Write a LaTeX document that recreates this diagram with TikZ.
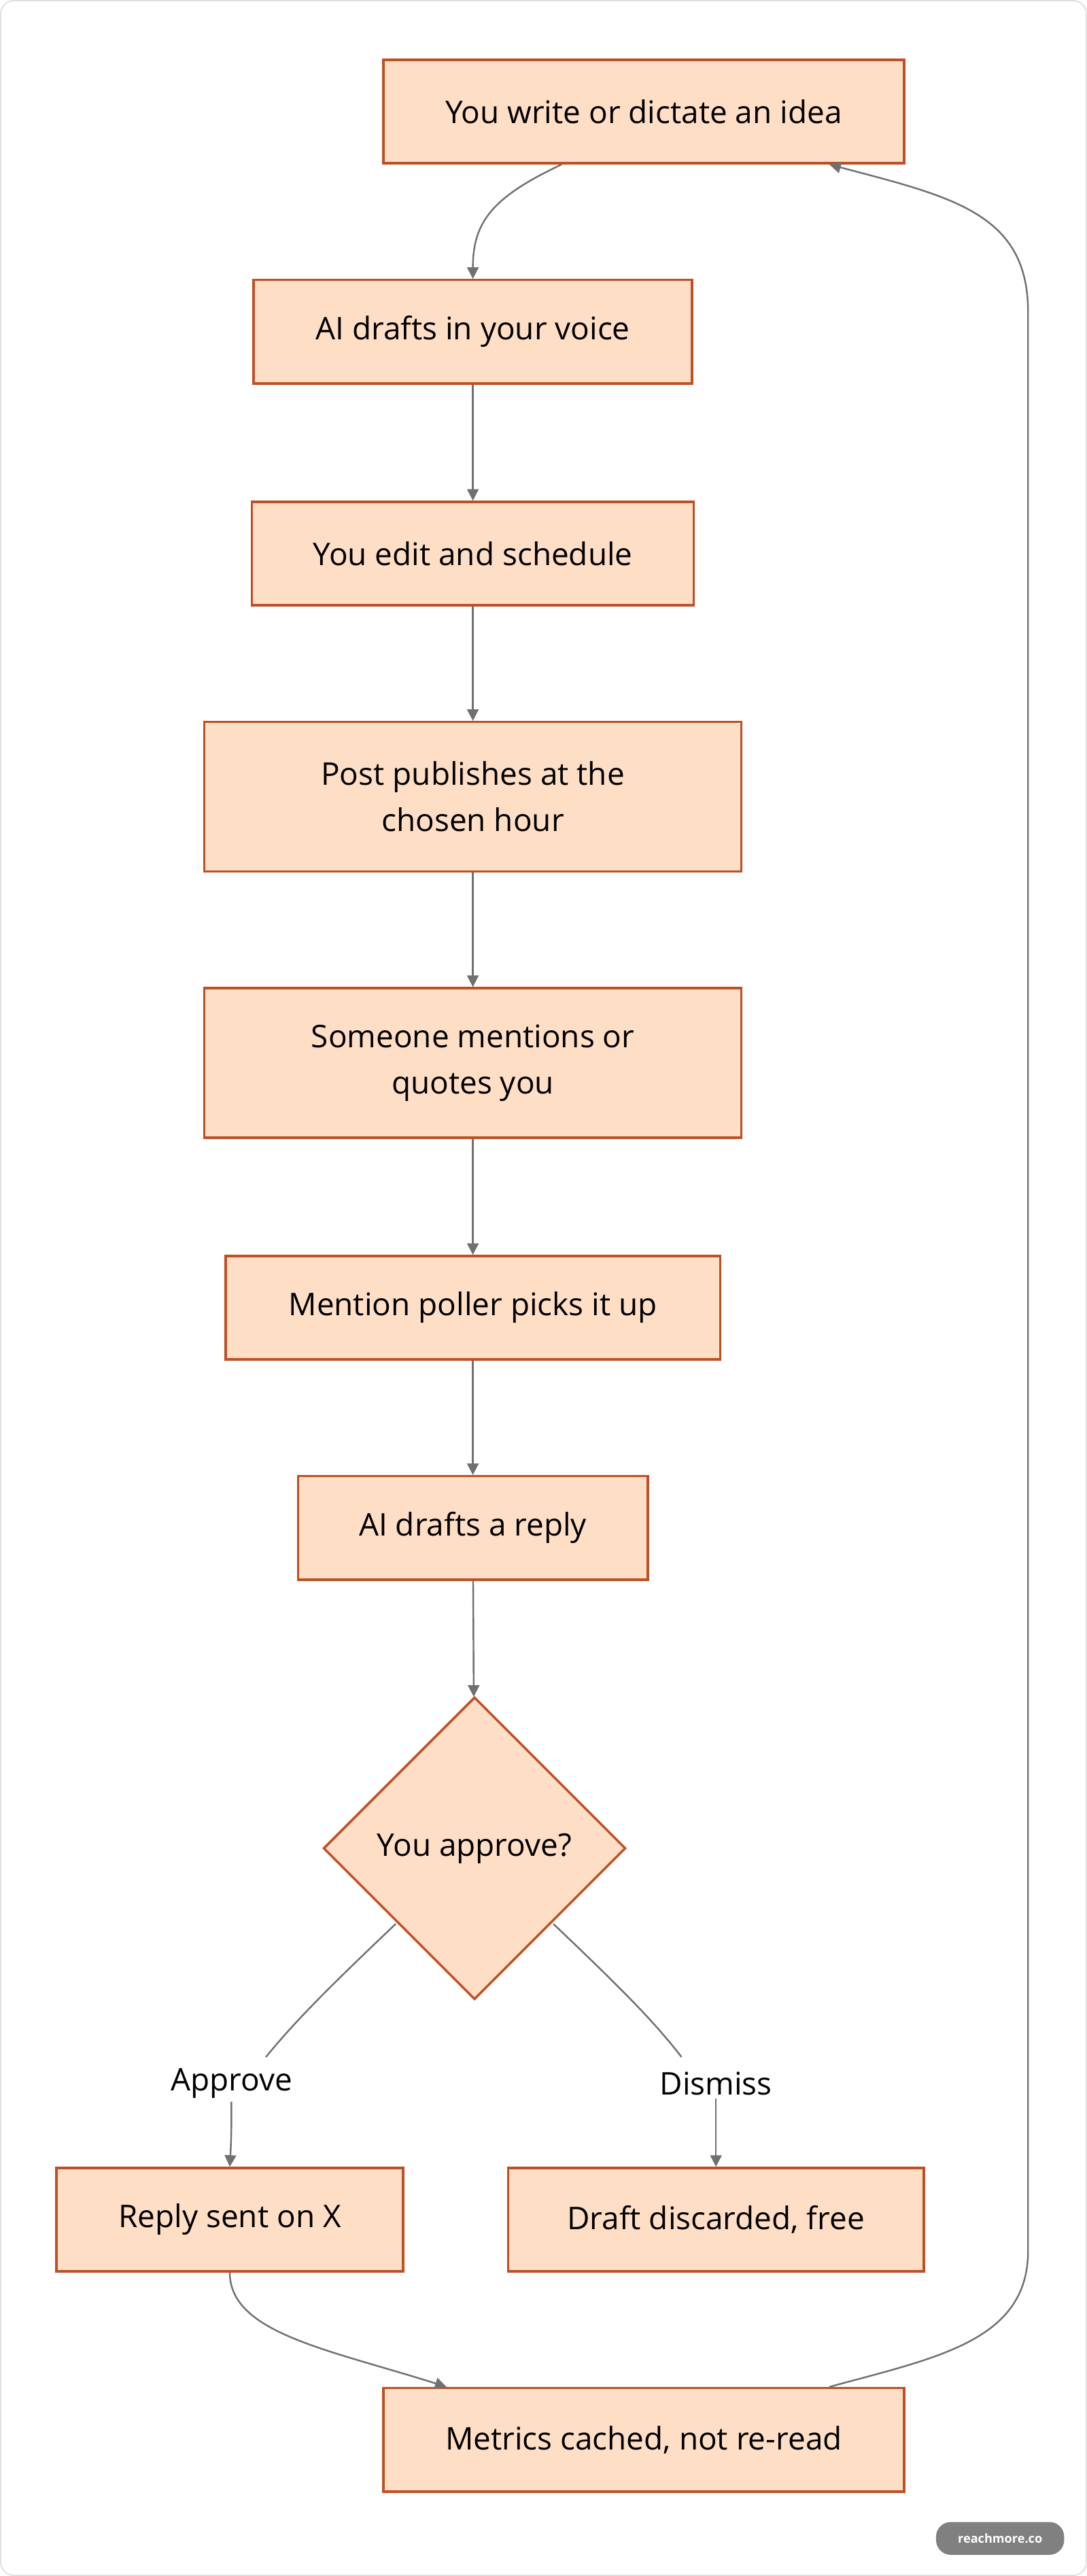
\documentclass[tikz,border=0pt]{standalone}
\usepackage{fontspec}
\setmainfont{Open Sans}
\usetikzlibrary{shapes.geometric,arrows.meta}
\definecolor{fillc}{HTML}{FFDEC6}
\definecolor{linec}{HTML}{BF4F24}
\definecolor{edgec}{HTML}{707070}
\begin{document}
\begin{tikzpicture}[x=1pt,y=-1pt,
  box/.style={draw=linec,fill=fillc,line width=1.4pt,font=\fontsize{19}{28}\selectfont,align=center,inner sep=0pt},
  e/.style={draw=edgec,line width=1pt,-{Triangle[length=7pt,width=7pt]}},
  en/.style={draw=edgec,line width=1pt},
  lab/.style={font=\fontsize{19}{22}\selectfont,fill=white,inner sep=2pt}]
\path[use as bounding box,draw=black!12,rounded corners=8pt,line width=0.8pt,fill=white] (0.5,0.5) rectangle (661.5,1567.5);
\node[box,minimum width=317pt,minimum height=63pt] (n1) at (392,68) {You write or dictate an idea};
\node[box,minimum width=267pt,minimum height=63pt] (n2) at (288,202) {AI drafts in your voice};
\node[box,minimum width=269pt,minimum height=63pt] (n3) at (288,337) {You edit and schedule};
\node[box,minimum width=327pt,minimum height=91pt] (n4) at (288,485) {Post publishes at the\\chosen hour};
\node[box,minimum width=327pt,minimum height=91pt] (n5) at (288,647) {Someone mentions or\\quotes you};
\node[box,minimum width=301pt,minimum height=63pt] (n6) at (288,796) {Mention poller picks it up};
\node[box,minimum width=213pt,minimum height=63pt] (n7) at (288,930) {AI drafts a reply};
\node[box,diamond,minimum width=184pt,minimum height=184pt] (d) at (289,1125) {You approve?};
\node[box,minimum width=211pt,minimum height=63pt] (n9) at (140,1351) {Reply sent on X};
\node[box,minimum width=253pt,minimum height=63pt] (n10) at (436,1351) {Draft discarded, free};
\node[box,minimum width=317pt,minimum height=63pt] (n11) at (392,1485) {Metrics cached, not re-read};
\node[lab] (la) at (141,1268) {Approve};
\node[lab] (ld) at (436,1268) {Dismiss};
\node[fill=black!50,text=white,rounded corners=9pt,font=\bfseries\fontsize{7.5}{9}\selectfont,minimum width=78pt,minimum height=20pt] (badge) at (609,1545) {reachmore.co};
\coordinate (al) at (162,1252);
\coordinate (dr) at (415,1252);

\draw[e] ([xshift=-50pt]n1.south) .. controls (300,120) and (288,135) .. (n2.north);
\draw[e] (n2) -- (n3);
\draw[e] (n3) -- (n4);
\draw[e] (n4) -- (n5);
\draw[e] (n5) -- (n6);
\draw[e] (n6) -- (n7);
\draw[e] (n7) -- (d);
\draw[en] (241,1171) .. controls (200,1210) and (180,1230) .. (al);
\draw[e] (la.south) .. controls (141,1295) and (141,1300) .. (n9.north);
\draw[en] (337,1171) .. controls (378,1210) and (398,1230) .. (dr);
\draw[e] (ld.south) .. controls (436,1295) and (436,1300) .. (n10.north);
\draw[e] (n9.south) .. controls (140,1420) and (200,1430) .. ([xshift=-120pt]n11.north);
\draw[e] ([xshift=113pt]n11.north) .. controls (570,1435) and (626,1425) .. (626,1370) -- (626,190) .. controls (626,130) and (580,120) .. ([xshift=113pt]n1.south);
\end{tikzpicture}
\end{document}
